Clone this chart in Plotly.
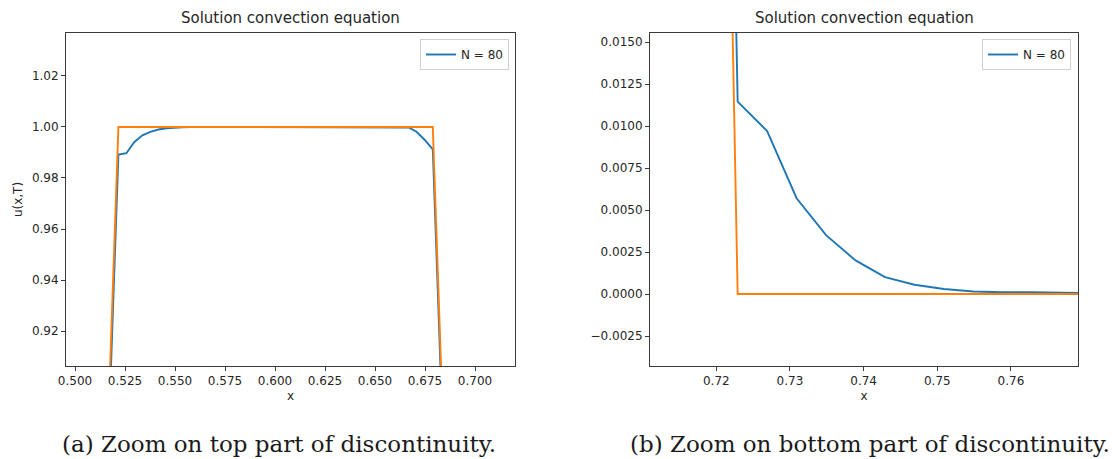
import plotly.graph_objects as go

W, H = 1119, 459

# Numerical solution (N = 80)
x_num = [0.4695, 0.4735, 0.4775, 0.5217, 0.5257, 0.5297, 0.5337, 0.5377, 0.5417, 0.5457,
         0.5497, 0.5537, 0.5577, 0.6629, 0.6669, 0.6709, 0.6749, 0.6789, 0.7229, 0.7269,
         0.7309, 0.7349, 0.7389, 0.7429, 0.7469, 0.7509, 0.7549, 0.7589, 0.7629, 0.7669, 0.7709]
u_num = [0.0, 0.0, 0.0, 0.9892, 0.9897, 0.9941, 0.9967, 0.9981, 0.9990, 0.9995,
         0.9998, 0.9999, 1.0, 1.0, 0.9998, 0.9980, 0.9949, 0.9912, 0.01145, 0.0097,
         0.0057, 0.0035, 0.0020, 0.0010, 0.00055, 0.0003, 0.00015, 0.0001, 0.0001, 0.00008, 0.00005]

# Exact solution
x_ex = [0.4600, 0.4775, 0.5217, 0.6789, 0.7229, 0.7800]
u_ex = [0.0, 0.0, 1.0, 1.0, 0.0, 0.0]

title_text = "Solution convection equation"
legend_label = "N = 80"
caption_a = "(a) Zoom on top part of discontinuity."
caption_b = "(b) Zoom on bottom part of discontinuity."

left_x_ticks = [0.500, 0.525, 0.550, 0.575, 0.600, 0.625, 0.650, 0.675, 0.700]
left_y_ticks = [0.92, 0.94, 0.96, 0.98, 1.00, 1.02]
right_x_ticks = [0.72, 0.73, 0.74, 0.75, 0.76]
right_y_ticks = [-0.0025, 0.0, 0.0025, 0.0050, 0.0075, 0.0100, 0.0125, 0.0150]

BLUE = "#1f77b4"
ORANGE = "#ff7f0e"
SPINE = "#3a3a3a"
TXT = "#262626"
FONT = "DejaVu Sans"

fig = go.Figure()

# Left subplot
fig.add_trace(go.Scatter(x=x_num, y=u_num, mode="lines", name=legend_label,
                         line=dict(color=BLUE, width=1.9), xaxis="x", yaxis="y",
                         legend="legend"))
fig.add_trace(go.Scatter(x=x_ex, y=u_ex, mode="lines", showlegend=False,
                         line=dict(color=ORANGE, width=1.9), xaxis="x", yaxis="y"))
# Right subplot
fig.add_trace(go.Scatter(x=x_num, y=u_num, mode="lines", name=legend_label,
                         line=dict(color=BLUE, width=1.9), xaxis="x2", yaxis="y2",
                         legend="legend2"))
fig.add_trace(go.Scatter(x=x_ex, y=u_ex, mode="lines", showlegend=False,
                         line=dict(color=ORANGE, width=1.9), xaxis="x2", yaxis="y2"))

def px_x(p):
    return p / W

def px_y(p):
    return 1 - p / H

axis_common = dict(showgrid=False, zeroline=False, showline=True, linecolor=SPINE,
                   linewidth=1, mirror=True, ticks="outside", ticklen=4, tickwidth=1,
                   tickcolor=SPINE, automargin=False,
                   tickfont=dict(family=FONT, size=12, color=TXT))

fig.update_layout(
    width=W, height=H,
    margin=dict(l=0, r=0, t=0, b=0, autoexpand=False),
    paper_bgcolor="white", plot_bgcolor="white",
    font=dict(family=FONT, size=12, color=TXT),
    xaxis=dict(domain=[px_x(66), px_x(515)], range=[0.4955, 0.7200], anchor="y",
               tickvals=left_x_ticks, tickformat=".3f",
               title=dict(text="x", font=dict(size=12), standoff=4), **axis_common),
    yaxis=dict(domain=[px_y(366), px_y(33)], range=[0.90631, 1.03682], anchor="x",
               tickvals=left_y_ticks, tickformat=".2f",
               title=dict(text="u(x,T)", font=dict(size=12), standoff=6), **axis_common),
    xaxis2=dict(domain=[px_x(650), px_x(1078)], range=[0.7110, 0.7691], anchor="y2",
                tickvals=right_x_ticks, tickformat=".2f",
                title=dict(text="x", font=dict(size=12), standoff=4), **axis_common),
    yaxis2=dict(domain=[px_y(366), px_y(33)], range=[-0.004286, 0.015536], anchor="x2",
                tickvals=right_y_ticks, tickformat=".4f", **axis_common),
    legend=dict(x=px_x(509), y=px_y(39), xanchor="right", yanchor="top",
                bgcolor="rgba(255,255,255,0.8)", bordercolor="#d0d0d0", borderwidth=1,
                font=dict(family=FONT, size=12, color=TXT), itemwidth=30,
                tracegroupgap=0),
    legend2=dict(x=px_x(1071), y=px_y(39), xanchor="right", yanchor="top",
                 bgcolor="rgba(255,255,255,0.8)", bordercolor="#d0d0d0", borderwidth=1,
                 font=dict(family=FONT, size=12, color=TXT), itemwidth=30,
                 tracegroupgap=0),
    showlegend=True,
)

annotations = [
    dict(text=title_text, x=(px_x(66) + px_x(515)) / 2, y=px_y(18), xref="paper", yref="paper",
         xanchor="center", yanchor="middle", showarrow=False,
         font=dict(family=FONT, size=15, color=TXT)),
    dict(text=title_text, x=(px_x(650) + px_x(1078)) / 2, y=px_y(18), xref="paper", yref="paper",
         xanchor="center", yanchor="middle", showarrow=False,
         font=dict(family=FONT, size=15, color=TXT)),
    dict(text=caption_a, x=px_x(279), y=px_y(444), xref="paper", yref="paper",
         xanchor="center", yanchor="middle", showarrow=False,
         font=dict(family="DejaVu Serif", size=23, color="#1a1a1a")),
    dict(text=caption_b, x=px_x(870), y=px_y(444), xref="paper", yref="paper",
         xanchor="center", yanchor="middle", showarrow=False,
         font=dict(family="DejaVu Serif", size=23, color="#1a1a1a")),
]
fig.update_layout(annotations=annotations)

fig.write_html("out.html")
